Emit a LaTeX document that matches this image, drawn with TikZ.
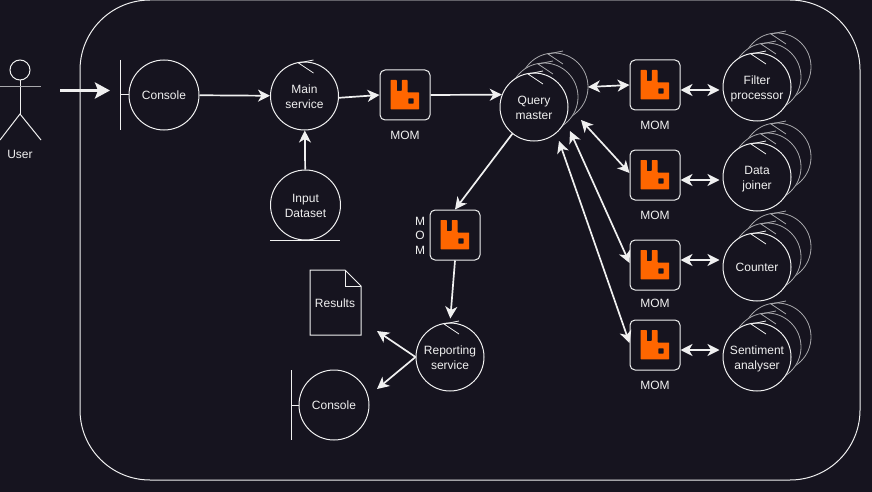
\documentclass[tikz,border=0pt]{standalone}
\usepackage{fontspec}
\setmainfont{Liberation Sans}
\usetikzlibrary{arrows.meta, positioning, shapes.geometric}
\definecolor{canvas}{HTML}{16141F}
\definecolor{ink}{HTML}{F0F0F0}
\definecolor{faded}{HTML}{A8A8AC}
\definecolor{rabbit}{HTML}{FF6600}
\newcommand{\mommark}[1]{
\fill[rabbit, even odd rule, rounded corners=0.6pt] ([shift={(-14.5,-15)}]#1.center) -- ([shift={(-8.2,-15)}]#1.center) -- ([shift={(-8.2,-4)}]#1.center) -- ([shift={(-3.2,-4)}]#1.center) -- ([shift={(-3.2,-15)}]#1.center) -- ([shift={(2.5,-15)}]#1.center) -- ([shift={(2.5,-2.5)}]#1.center) -- ([shift={(14.2,-2.5)}]#1.center) -- ([shift={(14.2,14.3)}]#1.center) -- ([shift={(-14.5,14.3)}]#1.center) -- cycle
    ([shift={(3.3,3.3)}]#1.center) rectangle ([shift={(8.7,8.7)}]#1.center);
}
\newcommand{\ctrlmark}[2][ink]{
\draw[#1, line width=0.8pt] ([shift={(9,-36)}]#2.center) -- ([shift={(-6,-33)}]#2.center) -- ([shift={(9,-23)}]#2.center);
}
\begin{document}
\begin{tikzpicture}[
    x=1pt, y=-1pt,
    every node/.style={font=\fontsize{12}{15}\selectfont, text=ink},
    comp/.style={
        circle,
        draw=ink,
        fill=canvas,
        line width=1pt,
        minimum size=68pt,
        inner sep=0pt,
        align=center
    },
    large/.style={comp, minimum size=70pt},
    twoline/.style={text height=25pt, text depth=0pt},
    ghost/.style={comp, draw=faded, line width=0.8pt},
    mom/.style={
        rectangle,
        rounded corners=5pt,
        draw=ink,
        fill=canvas,
        line width=1pt,
        minimum size=50pt
    },
    plain/.style={inner sep=0pt, align=center},
    page/.style={draw=ink, line width=1pt},
    arrow/.style={line width=1.7pt, draw=ink, -{Stealth[length=12pt, width=12pt, inset=3.5pt]}},
    twoway/.style={line width=1.7pt, draw=ink, {Stealth[length=12pt, width=12pt, inset=3.5pt]}-{Stealth[length=12pt, width=12pt, inset=3.5pt]}},
    bold/.style={line width=3.2pt, draw=ink, -{Stealth[length=15pt, width=16pt, inset=3pt]}}
]

\useasboundingbox (0,0) rectangle (872,492);
\fill[canvas] (0,0) rectangle (872,492);

\node[rectangle, draw=ink, line width=1pt, rounded corners=70pt, minimum width=780pt, minimum height=480pt] (system) at (470,240) {};

% user
\node[circle, draw=ink, line width=1pt, minimum size=20pt, inner sep=0pt] (head) at (20,70) {};
\coordinate (hip) at (20,114);
\draw[ink, line width=1pt] (head) -- (hip);
\draw[faded, line width=1pt] (0,87) -- (41,87);
\draw[ink, line width=1pt] (0,140) -- (hip) -- (41,140);
\node[plain] (user) at (20,154) {User};
\coordinate (userout) at (60,90.5);
\coordinate (consolein) at (110,90.5);

% left column
\node[large] (console) at (164,95) {Console};
\node[comp, twoline] (mainsvc) at (304.5,96) {Main\\service};
\node[large, twoline] (dataset) at (305.5,205) {Input\\Dataset};
\node[mom] (momin) at (405,95) {};
\node[plain] (mominlabel) at (405,135.5) {MOM};
\ctrlmark{mainsvc}
\draw[ink, line width=1pt] (120.5,60) -- (120.5,130);
\draw[ink, line width=1pt] (120.5,95) -- (console.west);
\draw[ink, line width=1pt] (270,240) -- (340,240);

% query master
\node[ghost] (queryc) at (554,87) {};
\ctrlmark[faded]{queryc}
\node[ghost] (queryb) at (544,97) {};
\ctrlmark[faded]{queryb}
\node[comp, twoline] (query) at (534,107) {Query\\master};
\ctrlmark{query}

% workers
\foreach \name/\ypos/\labely/\txt/\look in {filter/87/125.5/Filter\\processor/twoline, joiner/177/215.5/Data\\joiner/twoline, counter/267/303.5/Counter/comp, sentiment/357/385.5/Sentiment\\analyser/twoline} {
    \node[ghost] (\name c) at (777,\ypos-20) {};
    \ctrlmark[faded]{\name c}
    \node[ghost] (\name b) at (767,\ypos-10) {};
    \ctrlmark[faded]{\name b}
    \node[comp, \look] (\name) at (757,\ypos) {\txt};
    \ctrlmark{\name}
    \node[plain] (\name label) at (655,\labely) {MOM};
}
\node[mom] (momfilter) at (655,85) {};
\node[mom] (momjoiner) at (655,175) {};
\node[mom] (momcounter) at (655,265) {};
\node[mom] (momsentiment) at (655,345) {};

% reporting
\node[mom] (momout) at (455,235) {};
\node[plain] (momoutlabel) at (420,235.5) {M\\[-0.5pt]O\\[-0.5pt]M};
\node[comp, twoline] (reporting) at (450,357) {Reporting\\service};
\ctrlmark{reporting}
\node[large] (consoleout) at (334,405) {Console};
\draw[ink, line width=1pt] (291,370) -- (291,440);
\draw[ink, line width=1pt] (291,405) -- (consoleout.west);
\draw[page] (310,270) -- (345,270) -- (361,286) -- (361,335) -- (310,335) -- cycle;
\draw[page] (345,270) -- (345,286) -- (361,286);
\node[plain] (results) at (335,303) {Results};

\foreach \momname in {momin, momfilter, momjoiner, momcounter, momsentiment, momout} {
    \mommark{\momname}
}

\coordinate (qport1) at (588,87);
\coordinate (qport2) at (581,120);
\coordinate (qport3) at (570,131);
\coordinate (qport4) at (559,141);
\coordinate (resultsin) at (377,331);
\coordinate (consoleoutin) at (377,389);

\draw[bold] (userout) -- (consolein);
\draw[arrow] (console) -- (mainsvc);
\draw[arrow] (mainsvc.-3) -- (momin.west);
\draw[arrow] (dataset) -- (mainsvc);
\draw[arrow] (momin.east) -- (query.159);
\draw[arrow] (query.231) -- (momout.north);
\draw[arrow, shorten >=4pt] (momout.south) -- (reporting.north);
\draw[arrow] (reporting.west) -- (resultsin);
\draw[arrow] (reporting.west) -- (consoleoutin);
\draw[twoway] (qport1) -- (momfilter.west);
\draw[twoway] (qport2) -- ([yshift=2pt]momjoiner.west);
\draw[twoway] (qport3) -- ([yshift=2pt]momcounter.west);
\draw[twoway] (qport4) -- ([yshift=2pt]momsentiment.west);
\draw[twoway] ([yshift=-5pt]momfilter.east) -- ([xshift=-3pt, yshift=-3pt]filter.west);
\draw[twoway] ([yshift=-5pt]momjoiner.east) -- ([xshift=-3pt, yshift=-3pt]joiner.west);
\draw[twoway] ([yshift=5pt]momcounter.east) -- ([xshift=-3pt, yshift=7pt]counter.west);
\draw[twoway] ([yshift=-5pt]momsentiment.east) -- ([xshift=-3pt, yshift=7pt]sentiment.west);

\end{tikzpicture}
\end{document}
